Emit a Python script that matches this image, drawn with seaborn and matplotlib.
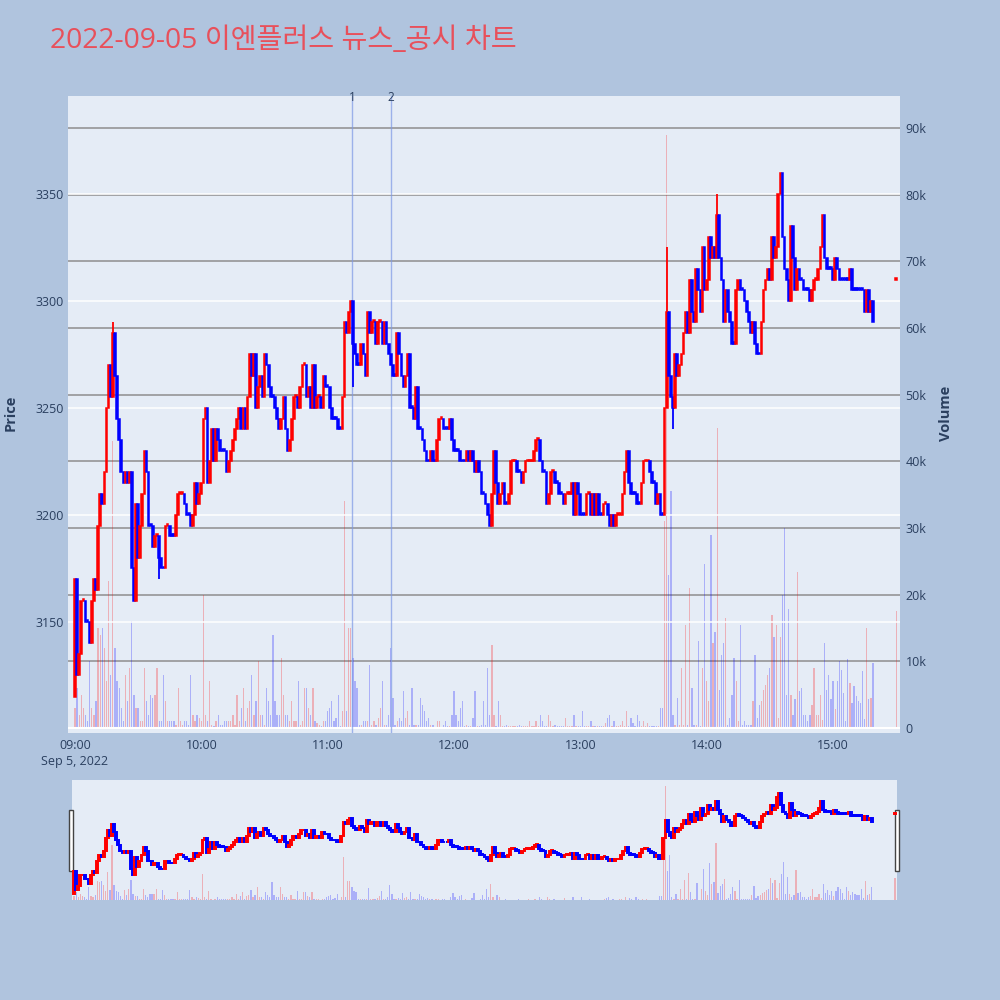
import numpy as np
import pandas as pd
import seaborn as sns
import matplotlib.pyplot as plt
from matplotlib.patches import Rectangle

title = "2022-09-05 이엔플러스 뉴스_공시 차트"

# 1-minute closes from 09:00 (minute 0) to 15:19 (minute 379)
first_open = 3115
closes = [
    3170, 3125, 3135, 3160, 3160, 3150, 3150, 3140, 3160, 3170,
    3165, 3195, 3210, 3205, 3220, 3250, 3270, 3255, 3285, 3265,
    3245, 3235, 3220, 3215, 3220, 3215, 3220, 3175, 3160, 3205,
    3180, 3195, 3210, 3230, 3220, 3195, 3195, 3185, 3190, 3190,
    3180, 3175, 3175, 3195, 3195, 3190, 3190, 3190, 3200, 3210,
    3210, 3210, 3205, 3200, 3200, 3195, 3200, 3215, 3205, 3210,
    3215, 3245, 3250, 3215, 3225, 3240, 3225, 3240, 3235, 3230,
    3230, 3230, 3220, 3225, 3230, 3235, 3240, 3245, 3250, 3240,
    3250, 3240, 3255, 3275, 3265, 3275, 3250, 3260, 3265, 3255,
    3275, 3270, 3260, 3255, 3255, 3250, 3245, 3240, 3245, 3255,
    3240, 3230, 3235, 3245, 3255, 3255, 3250, 3260, 3270, 3270,
    3255, 3260, 3250, 3270, 3250, 3255, 3255, 3250, 3265, 3260,
    3260, 3250, 3245, 3245, 3245, 3240, 3240, 3255, 3290, 3285,
    3295, 3300, 3280, 3275, 3270, 3270, 3280, 3275, 3265, 3295,
    3285, 3290, 3290, 3280, 3290, 3290, 3280, 3290, 3280, 3275,
    3270, 3265, 3265, 3285, 3275, 3265, 3260, 3265, 3275, 3250,
    3250, 3245, 3260, 3240, 3240, 3235, 3230, 3225, 3225, 3230,
    3225, 3225, 3235, 3245, 3245, 3240, 3240, 3240, 3245, 3235,
    3230, 3230, 3230, 3225, 3225, 3225, 3230, 3225, 3230, 3225,
    3220, 3225, 3220, 3210, 3210, 3205, 3200, 3195, 3210, 3230,
    3215, 3205, 3210, 3215, 3205, 3205, 3210, 3225, 3225, 3225,
    3220, 3220, 3215, 3220, 3225, 3225, 3225, 3225, 3230, 3235,
    3235, 3225, 3220, 3220, 3205, 3210, 3220, 3220, 3215, 3215,
    3210, 3210, 3205, 3210, 3210, 3210, 3215, 3200, 3215, 3210,
    3200, 3200, 3200, 3210, 3210, 3200, 3210, 3200, 3210, 3200,
    3200, 3205, 3205, 3200, 3195, 3200, 3195, 3200, 3200, 3200,
    3210, 3220, 3230, 3215, 3210, 3210, 3210, 3205, 3205, 3215,
    3225, 3225, 3225, 3220, 3215, 3215, 3205, 3210, 3200, 3200,
    3250, 3295, 3265, 3255, 3250, 3275, 3265, 3270, 3275, 3285,
    3295, 3285, 3310, 3295, 3290, 3315, 3305, 3295, 3325, 3305,
    3310, 3330, 3320, 3325, 3320, 3340, 3320, 3310, 3290, 3305,
    3295, 3290, 3280, 3280, 3305, 3310, 3305, 3305, 3300, 3295,
    3290, 3285, 3290, 3280, 3275, 3275, 3290, 3305, 3310, 3315,
    3310, 3330, 3320, 3325, 3350, 3360, 3330, 3315, 3310, 3300,
    3335, 3320, 3305, 3315, 3310, 3310, 3305, 3305, 3305, 3300,
    3305, 3310, 3310, 3315, 3325, 3340, 3320, 3315, 3315, 3315,
    3310, 3320, 3315, 3310, 3310, 3310, 3310, 3310, 3315, 3305,
    3305, 3305, 3305, 3305, 3305, 3295, 3305, 3295, 3300, 3290,
]

# volume per minute, thousands of shares
volumes_k = [
    3, 6, 2, 5, 3, 2, 1, 10, 3, 2,
    4, 15, 14, 15, 12, 7, 22, 8, 43, 12,
    7, 6, 3, 1, 8, 4, 9, 16, 5, 3,
    3, 1, 1, 9, 4, 2, 5, 4.5, 5, 9,
    1, 1, 8, 4, 1, 1, 1, 1, 0.5, 6,
    1, 0.5, 1, 1, 0.5, 8, 2, 1, 2, 1.5,
    1, 20, 2, 1, 7, 0.5, 0.3, 1, 2, 0.5,
    0.5, 1, 1, 1, 1, 2, 0.5, 5, 1, 3,
    6, 1, 3, 4, 8, 2, 4, 10, 2, 2,
    0.5, 6, 4, 2, 14, 4, 2, 2, 10.5, 5,
    2, 2, 1, 4, 1, 1, 7, 0.5, 1, 6,
    6, 3, 2, 6, 1, 0.8, 0.5, 0.3, 1, 1,
    2.5, 3, 4, 1, 1.5, 5, 0.3, 2.5, 34, 2.5,
    15, 15, 10.5, 7, 6, 0.5, 0.5, 1, 1, 1,
    9.5, 0.5, 1, 0.5, 1.5, 3, 7, 0.5, 0.5, 2,
    12, 4.5, 0.5, 1, 1.5, 1, 5.5, 1.5, 2.5, 0.5,
    6, 0.5, 0.5, 0.5, 4.5, 3.5, 2.5, 1, 1.5, 0.5,
    0.5, 0.2, 1, 1, 0.2, 0.5, 1, 0.3, 0.3, 2,
    5.5, 2, 1, 3, 4, 0.3, 0.5, 0.3, 0.3, 1.5,
    5.5, 0.3, 0.3, 0.5, 4, 0.5, 9, 2, 12.5, 2,
    0.3, 4, 2, 0.3, 0.3, 0.5, 0.3, 0.3, 0.3, 0.3,
    0.3, 0.5, 0.3, 0.3, 0.3, 0.3, 1, 0.3, 0.3, 1,
    0.3, 2, 1, 0.3, 0.3, 2, 1, 0.3, 0.5, 0.3,
    0.3, 0.3, 0.3, 1.5, 0.3, 0.3, 0.3, 2, 0.3, 0.3,
    0.3, 2.5, 0.3, 0.3, 0.3, 1, 0.3, 0.3, 0.3, 0.3,
    0.3, 0.3, 0.8, 1.5, 2, 0.3, 1, 0.3, 0.3, 0.5,
    1, 0.3, 2.5, 0.3, 1.5, 0.8, 0.3, 2, 1, 0.3,
    1, 0.3, 0.8, 0.3, 0.3, 0.3, 0.3, 0.3, 3, 3,
    31, 89, 23, 35.5, 2, 0.5, 4.5, 0.5, 9, 0.5,
    15.5, 0.5, 21, 6, 0.5, 0.5, 13, 0.3, 9, 24.6,
    7, 4, 29, 12.7, 14.4, 45, 5.7, 11, 12.7, 16.5,
    0.5, 1.5, 5, 10.5, 7, 1, 15.5, 0.5, 1, 0.5,
    0.5, 0.5, 4, 11, 1.5, 3.5, 4, 5.7, 6.5, 8,
    9, 17, 13.7, 15.5, 1.5, 13.7, 20, 30, 5, 17.8,
    5, 2, 4.3, 23.4, 5.6, 6, 2, 2, 1, 2,
    3.5, 9, 2, 2, 5, 1.2, 12.7, 5.7, 8, 4.3,
    7, 2.8, 7, 10, 8.7, 5.2, 1, 10.3, 6.8, 3.7,
    6.3, 4.8, 4, 3.7, 8.6, 1.4, 15, 4.3, 4.5, 9.8,
]

# closing auction at 15:30
auction_minute = 390
auction_price = 3310
auction_volume_k = 17.6

# a few visible wicks
wick_high_minutes = [18, 281, 305]
wick_highs = [3290, 3325, 3350]
wick_low_minutes = [40, 132, 284]
wick_lows = [3170, 3260, 3240]

# news / disclosure markers (minutes after 09:00)
event_minutes = [131.6, 150.1]
event_labels = ["1", "2"]

hour_ticks = [0, 60, 120, 180, 240, 300, 360]
hour_labels = ["09:00\nSep 5, 2022", "10:00", "11:00", "12:00", "13:00", "14:00", "15:00"]
price_ticks = [3150, 3200, 3250, 3300, 3350]
volume_ticks = [0, 10, 20, 30, 40, 50, 60, 70, 80, 90]

# ---- build candle table ----
minutes = list(range(len(closes))) + [auction_minute]
close_all = closes + [auction_price]
open_all = [first_open] + closes[:-1] + [auction_price]
vol_all = volumes_k + [auction_volume_k]

direction = []
prev = "up"
for o, c in zip(open_all, close_all):
    if c > o:
        prev = "up"
    elif c < o:
        prev = "down"
    direction.append(prev)
direction[-1] = "up"

df = pd.DataFrame({"minute": minutes, "open": open_all, "close": close_all,
                   "volume": vol_all, "dir": direction})
df["bottom"] = df[["open", "close"]].min(axis=1)
df["height"] = (df["close"] - df["open"]).abs().clip(lower=0.9)
df["color"] = df["dir"].map({"up": "#ff0000", "down": "#0000ff"})
palette = {"up": "#ff0000", "down": "#0000ff"}

sns.set_theme(style="white")
plt.rcParams["font.family"] = ["Open Sans", "Noto Sans CJK KR", "DejaVu Sans"]
text_color = "#2a3f5f"


def volume_bars(target):
    for key, col in palette.items():
        part = df[df["dir"] == key]
        sns.histplot(x=part["minute"].to_numpy(), weights=part["volume"].to_numpy(),
                     discrete=True, shrink=0.6, color=col, alpha=0.25,
                     linewidth=0, ax=target)


fig = plt.figure(figsize=(10, 10), dpi=100)
fig.patch.set_facecolor("#b0c4de")

# ---- main panel ----
ax = fig.add_axes([0.068, 0.267, 0.832, 0.637])
ax_vol = ax.twinx()
ax.set_zorder(ax_vol.get_zorder() + 1)
ax.patch.set_visible(False)
ax_vol.patch.set_visible(True)
ax_vol.patch.set_facecolor("#e5ecf6")

volume_bars(ax_vol)

ax.bar(df["minute"], df["height"], bottom=df["bottom"], width=0.8,
       color=df["color"], edgecolor=df["color"], linewidth=1.1, zorder=3)
for m, h in zip(wick_high_minutes, wick_highs):
    c = df.loc[m, "color"]
    ax.vlines(m, df.loc[m, "bottom"] + df.loc[m, "height"], h, color=c, lw=1.3, zorder=3)
for m, l in zip(wick_low_minutes, wick_lows):
    c = df.loc[m, "color"]
    ax.vlines(m, l, df.loc[m, "bottom"], color=c, lw=1.3, zorder=3)

for x, lab in zip(event_minutes, event_labels):
    ax.axvline(x, color="#7d99e6", lw=1, alpha=0.7, zorder=2)
    ax.text(x, 3395.3, lab, ha="center", va="center", fontsize=8.5, color=text_color)

ax.set_xlim(-3.3, 391.8)
ax.set_ylim(3098.1, 3395.8)
ax_vol.set_ylim(-0.75, 94.8)

ax.set_yticks(price_ticks)
ax.set_yticklabels([str(p) for p in price_ticks])
ax.grid(axis="y", color="white", lw=1.1)
ax.grid(axis="x", visible=False)
ax_vol.set_yticks(volume_ticks)
ax_vol.set_yticklabels(["0"] + [f"{v}k" for v in volume_ticks[1:]])
ax_vol.grid(axis="y", color="#8e8e8e", lw=1.1)
ax_vol.grid(axis="x", visible=False)
ax_vol.set_axisbelow(True)
ax_vol.axhline(0, color="white", lw=1.5, zorder=1)

ax.set_xticks(hour_ticks)
ax.set_xticklabels(hour_labels, linespacing=1.35)
ax.tick_params(axis="x", length=0, pad=4, labelsize=9, labelcolor=text_color)
ax.tick_params(axis="y", length=0, pad=3, labelsize=9, labelcolor=text_color)
ax_vol.tick_params(axis="y", length=0, pad=4, labelsize=9, labelcolor=text_color)
ax_vol.tick_params(axis="x", length=0, labelbottom=False)
ax.set_xlabel("")
ax.set_ylabel("")
ax_vol.set_xlabel("")
ax_vol.set_ylabel("")
for a in (ax, ax_vol):
    for s in a.spines.values():
        s.set_visible(False)

fig.text(0.011, 0.587, "Price", rotation=90, ha="center", va="center",
         fontsize=10.5, fontweight="bold", color=text_color)
fig.text(0.946, 0.587, "Volume", rotation=90, ha="center", va="center",
         fontsize=10.5, fontweight="bold", color=text_color)
fig.text(0.05, 0.959, title, ha="left", va="center", fontsize=20.3, color="#e8505b")

# ---- range slider ----
axs = fig.add_axes([0.072, 0.100, 0.825, 0.120])
axs_vol = axs.twinx()
axs.set_zorder(axs_vol.get_zorder() + 1)
axs.patch.set_visible(False)
axs_vol.patch.set_visible(True)
axs_vol.patch.set_facecolor("#e5ecf6")
volume_bars(axs_vol)
axs.bar(df["minute"], df["height"], bottom=df["bottom"], width=0.9,
        color=df["color"], edgecolor=df["color"], linewidth=1.4, zorder=3)
axs.set_xlim(-1, 391)
axs.set_ylim(3100, 3392)
axs_vol.set_ylim(0, 94)
for a in (axs, axs_vol):
    a.set_xticks([])
    a.set_yticks([])
    a.set_xlabel("")
    a.set_ylabel("")
    a.grid(False)
    for s in a.spines.values():
        s.set_visible(False)

for hx in (0.069, 0.895):
    fig.add_artist(Rectangle((hx, 0.129), 0.004, 0.061, transform=fig.transFigure,
                             facecolor="white", edgecolor="#444444", lw=1))

fig.savefig("out.png", dpi=100, facecolor=fig.get_facecolor())
